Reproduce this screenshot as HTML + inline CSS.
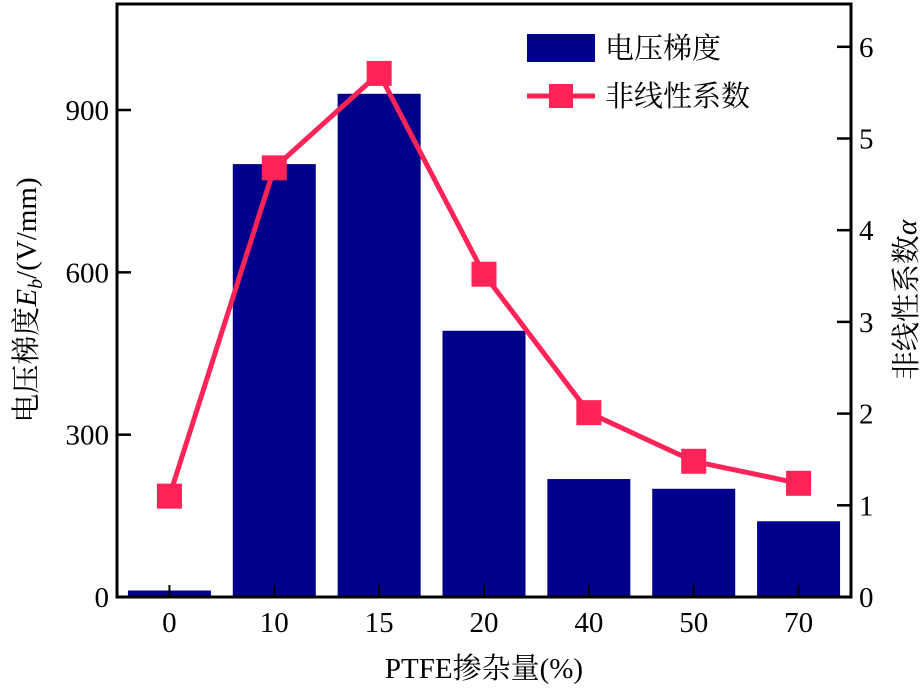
<!DOCTYPE html>
<html><head><meta charset="utf-8"><style>
html,body{margin:0;padding:0;background:#fff;}
svg text{font-family:"Liberation Serif","Noto Serif CJK SC","Noto Sans CJK SC",serif;fill:#000;}
</style></head><body>
<svg width="924" height="687" viewBox="0 0 924 687" xmlns="http://www.w3.org/2000/svg">
<g id="bars"></g>
<g id="line"></g>
<g id="axes"></g>
<g>
  <rect x="527" y="34" width="68" height="28" fill="#00008b"/>
  <text x="605" y="58" font-size="29">电压梯度</text>
  <line x1="527" y1="96" x2="595" y2="96" stroke="#ff2457" stroke-width="5"/>
  <rect x="549" y="84" width="24" height="24" fill="#ff2457"/>
  <text x="605" y="106" font-size="29">非线性系数</text>
</g>
<text x="484" y="678" font-size="29" text-anchor="middle">PTFE掺杂量(%)</text>
<text transform="translate(36,300) rotate(-90)" font-size="29" text-anchor="middle">电压梯度<tspan font-style="italic">E</tspan><tspan font-style="italic" font-size="20" dy="6">b</tspan><tspan dy="-6">/(V/mm)</tspan></text>
<text transform="translate(916,300) rotate(-90)" font-size="29" text-anchor="middle">非线性系数<tspan font-style="italic">α</tspan></text>
</svg>
<script>
const categories=["0","10","15","20","40","50","70"];
const gradient=[12,800,930,492,218,200,140];
const alpha=[1.10,4.68,5.71,3.52,2.01,1.48,1.24];
const leftTicks=[0,300,600,900];
const rightTicks=[0,1,2,3,4,5,6];
const NS="http://www.w3.org/2000/svg";
const L=117,R=851,T=4,B=597;
const yL=v=>B-v*0.5411;
const yR=v=>B-v*91.7;
const step=(R-L)/categories.length;
const xC=i=>L+step*(i+0.5);
function mk(tag,attrs,parent){const e=document.createElementNS(NS,tag);for(const k in attrs)e.setAttribute(k,attrs[k]);parent.appendChild(e);return e;}
const gb=document.getElementById('bars');
gradient.forEach((v,i)=>{
 const r=mk('rect',{x:xC(i)-41.5,y:yL(v),width:83,height:B-yL(v),fill:'#00008b'},gb);
 
 
});
const gl=document.getElementById('line');
const pl=mk('polyline',{points:alpha.map((v,i)=>xC(i)+','+yR(v)).join(' '),fill:'none',stroke:'#ff2457','stroke-width':5,'stroke-linejoin':'round'},gl);


alpha.forEach((v,i)=>{
 const r=mk('rect',{x:xC(i)-12.5,y:yR(v)-12.5,width:25,height:25,fill:'#ff2457'},gl);
 
 
});
const ga=document.getElementById('axes');
const fr=mk('rect',{x:L,y:T,width:R-L,height:B-T,fill:'none',stroke:'#000','stroke-width':3},ga);


leftTicks.forEach(v=>{
 mk('line',{x1:L,x2:L+14,y1:yL(v),y2:yL(v),stroke:'#000','stroke-width':2.5},ga);
 const t=mk('text',{x:L-8,y:yL(v)+10,'font-size':29,'text-anchor':'end'},ga);
 t.textContent=v;
 
 
});
rightTicks.forEach(v=>{
 mk('line',{x1:R-14,x2:R,y1:yR(v),y2:yR(v),stroke:'#000','stroke-width':2.5},ga);
 const t=mk('text',{x:R+8,y:yR(v)+10,'font-size':29},ga);
 t.textContent=v;
 
 
});
categories.forEach((c,i)=>{
 mk('line',{x1:xC(i),x2:xC(i),y1:B,y2:B-12,stroke:'#000','stroke-width':2},ga);
 const t=mk('text',{x:xC(i),y:632,'font-size':29,'text-anchor':'middle'},ga);
 t.textContent=c;
 
 
});
</script>
</body></html>
